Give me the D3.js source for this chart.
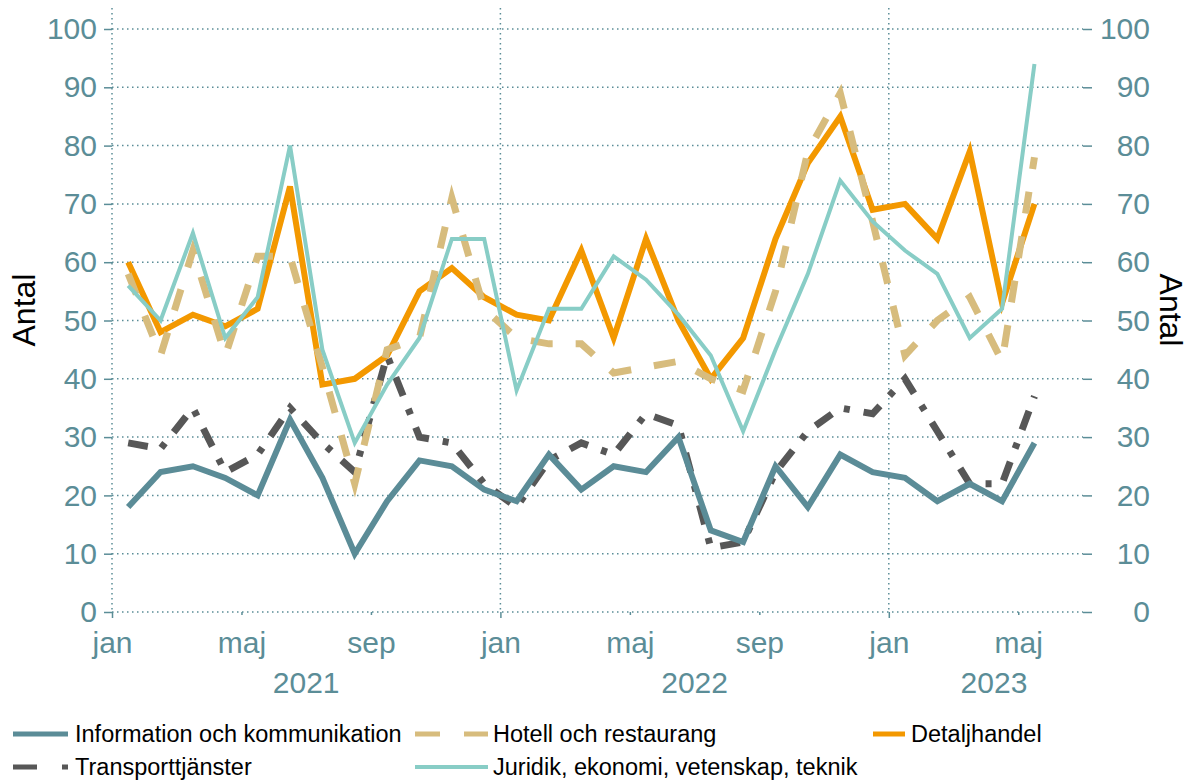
<!DOCTYPE html>
<html>
<head>
<meta charset="utf-8">
<script src="https://cdn.jsdelivr.net/npm/d3@7"></script>
<style>
    body { margin: 0; background: #fff; }
    text { font-family: "Liberation Sans", Arial, sans-serif; }
</style>
</head>
<body>
<svg id="chart" width="1195" height="783"></svg>
<script>
// Antal per månad och bransch, jan 2021 - maj 2023
var months = ["2021-01", "2021-02", "2021-03", "2021-04", "2021-05", "2021-06", "2021-07", "2021-08", "2021-09", "2021-10", "2021-11", "2021-12",
    "2022-01", "2022-02", "2022-03", "2022-04", "2022-05", "2022-06", "2022-07", "2022-08", "2022-09", "2022-10", "2022-11", "2022-12",
    "2023-01", "2023-02", "2023-03", "2023-04", "2023-05"];

var info      = [18, 24, 25, 23, 20, 33, 23, 10, 19, 26, 25, 21, 19, 27, 21, 25, 24, 30, 14, 12, 25, 18, 27, 24, 23, 19, 22, 19, 29];
var hotell    = [58, 44, 62, 44, 61, 61, 42, 22, 45, 47, 71, 52, 47, 46, 46, 41, 42, 43, 40, 38, 55, 79, 89, 67, 44, 50, 54, 43, 78];
var detalj    = [60, 48, 51, 49, 52, 73, 39, 40, 44, 55, 59, 54, 51, 50, 62, 47, 64, 50, 40, 47, 64, 77, 85, 69, 70, 64, 79, 53, 70];
var transport = [29, 28, 35, 24, 27, 35, 29, 24, 44, 30, 29, 22, 18, 26, 29, 27, 34, 32, 11, 12, 24, 31, 35, 34, 40, 31, 22, 22, 37];
var juridik   = [56, 50, 65, 47, 54, 80, 45, 29, 39, 47, 64, 64, 38, 52, 52, 61, 57, 51, 44, 31, 45, 58, 74, 67, 62, 58, 47, 52, 94];

var names = ["Information och kommunikation", "Hotell och restaurang", "Detaljhandel", "Transporttjänster", "Juridik, ekonomi, vetenskap, teknik"];

var tickMonths = [0, 4, 8, 12, 16, 20, 24, 28];
var tickLabels = ["jan", "maj", "sep", "jan", "maj", "sep", "jan", "maj"];
var years = ["2021", "2022", "2023"];
var yTicks = [0, 10, 20, 30, 40, 50, 60, 70, 80, 90, 100];

var axisColor = "#5b8d97";

// styles, in legend order
var styles = [
    { color: "#5b8c97", width: 6, dash: null,          legendDash: null,      row: 0, x0: 13 },
    { color: "#d7bc7d", width: 7, dash: "22,23",       legendDash: "25,24",   row: 0, x0: 415 },
    { color: "#f39800", width: 6, dash: null,          legendDash: null,      row: 0, x0: 873 },
    { color: "#575757", width: 7, dash: "20,14,6,14",  legendDash: "24,25,6", row: 1, x0: 13 },
    { color: "#88cdc6", width: 4, dash: null,          legendDash: null,      row: 1, x0: 415 }
];
var values = [info, hotell, detalj, transport, juridik];
var drawOrder = [3, 0, 2, 1, 4];

var svg = d3.select("#chart");
svg.append("rect").attr("width", 1195).attr("height", 783).attr("fill", "#fff");

var x = d3.scaleLinear().domain([0, 30]).range([112, 1083]);
var y = d3.scaleLinear().domain([0, 100]).range([612, 29]);

// grid
var grid = svg.append("g")
    .attr("stroke", axisColor)
    .attr("stroke-width", 1.5)
    .attr("stroke-dasharray", "1.5,3.5")
    .attr("fill", "none");

grid.selectAll(".hgrid")
    .data(yTicks)
    .enter().append("line")
    .attr("class", "hgrid")
    .attr("x1", x(0))
    .attr("x2", x(30))
    .attr("y1", function(d) { return y(d); })
    .attr("y2", function(d) { return y(d); });

grid.selectAll(".vgrid")
    .data([0, 12, 24])
    .enter().append("line")
    .attr("class", "vgrid")
    .attr("x1", function(d) { return x(d); })
    .attr("x2", function(d) { return x(d); })
    .attr("y1", 8)
    .attr("y2", y(0));

// y axes
var yLeft = svg.append("g")
    .attr("transform", "translate(" + x(0) + ",0)")
    .call(d3.axisLeft(y).tickValues(yTicks).tickSize(8).tickPadding(7));

var yRight = svg.append("g")
    .attr("transform", "translate(" + x(30) + ",0)")
    .call(d3.axisRight(y).tickValues(yTicks).tickSize(9).tickPadding(9));
yRight.selectAll("text").attr("text-anchor", "end").attr("x", 67);

// x axis
var xAxis = svg.append("g")
    .attr("transform", "translate(0," + y(0) + ")")
    .call(d3.axisBottom(x)
        .tickValues(tickMonths)
        .tickSize(6)
        .tickPadding(14)
        .tickFormat(function(d, i) { return tickLabels[i]; }));
xAxis.selectAll(".tick line").attr("y2", function(d) { return d % 12 === 0 ? 6 : 3; });

[yLeft, yRight, xAxis].forEach(function(g) {
    g.select(".domain").remove();
    g.selectAll("line").attr("stroke", axisColor).attr("stroke-width", 1.5);
    g.selectAll("text")
        .attr("fill", axisColor)
        .style("font-size", "30px")
        .style("font-family", "'Liberation Sans', Arial, sans-serif");
});

svg.selectAll(".year")
    .data(years)
    .enter().append("text")
    .attr("class", "year")
    .attr("x", function(d, i) { return x((i * 12 + Math.min(i * 12 + 12, 30.5)) / 2); })
    .attr("y", 693)
    .attr("text-anchor", "middle")
    .attr("fill", axisColor)
    .style("font-size", "30px")
    .text(function(d) { return d; });

// axis titles
svg.append("text")
    .attr("transform", "translate(35,310) rotate(-90)")
    .attr("text-anchor", "middle")
    .style("font-size", "32px")
    .attr("fill", "#000")
    .text("Antal");

svg.append("text")
    .attr("transform", "translate(1160,310) rotate(90)")
    .attr("text-anchor", "middle")
    .style("font-size", "32px")
    .attr("fill", "#000")
    .text("Antal");

// lines
var line = d3.line()
    .x(function(d, i) { return x(i + 0.5); })
    .y(function(d) { return y(d); });

drawOrder.forEach(function(k) {
    svg.append("path")
        .datum(values[k])
        .attr("d", line)
        .attr("fill", "none")
        .attr("stroke", styles[k].color)
        .attr("stroke-width", styles[k].width)
        .attr("stroke-dasharray", styles[k].dash);
});

// legend
var legend = svg.selectAll(".legend")
    .data(names)
    .enter().append("g")
    .attr("class", "legend")
    .attr("transform", function(d, i) {
        return "translate(" + styles[i].x0 + "," + (734 + styles[i].row * 33) + ")";
    });

legend.append("line")
    .attr("x1", 0)
    .attr("x2", function(d, i) { return i === 2 ? 32 : (i === 0 || i === 3 ? 55 : 73); })
    .attr("stroke", function(d, i) { return styles[i].color; })
    .attr("stroke-width", function(d, i) { return i === 4 ? 4 : 5; })
    .attr("stroke-dasharray", function(d, i) { return styles[i].legendDash; });

legend.append("text")
    .attr("x", function(d, i) { return i === 2 ? 38 : (i === 0 || i === 3 ? 62 : 78); })
    .attr("y", 8)
    .attr("fill", "#000")
    .style("font-size", "23.5px")
    .text(function(d) { return d; });
</script>
</body>
</html>
